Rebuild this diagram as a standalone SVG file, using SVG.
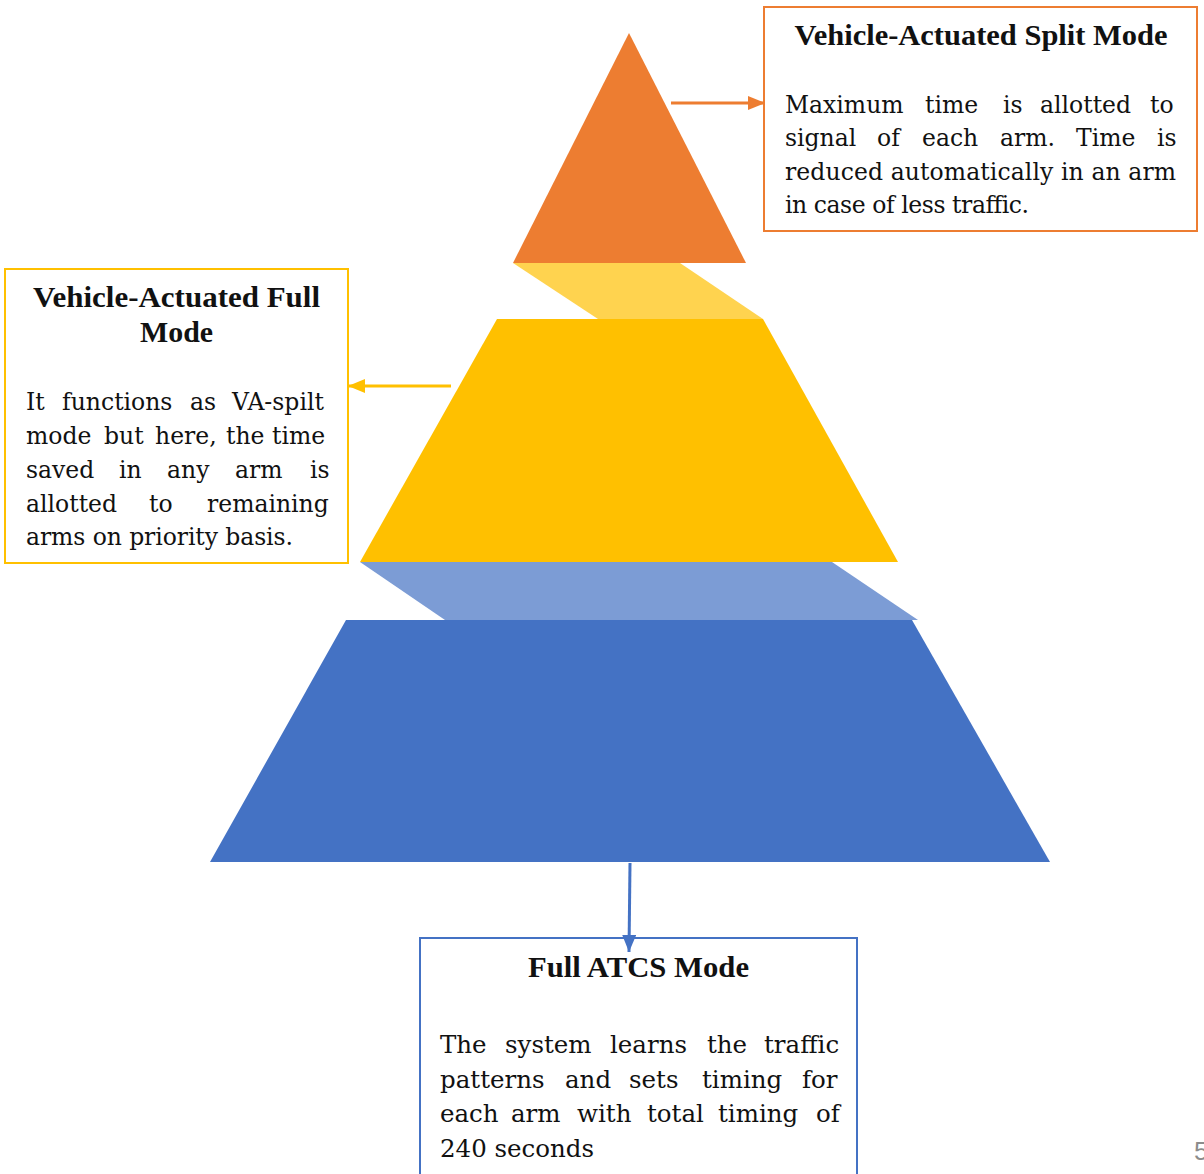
<svg xmlns="http://www.w3.org/2000/svg" width="1204" height="1174" viewBox="0 0 1204 1174">
<style>
.box{fill:#fff;stroke-width:2}
.title{font-family:"Liberation Serif","Times New Roman",serif;font-weight:bold;font-size:29px;fill:#111;text-anchor:middle}
.body{font-family:"DejaVu Serif","Liberation Serif",serif;fill:#111}
.b1{font-size:23.5px}
.b2{font-size:23.5px}
.b3{font-size:24.5px}
.conn{fill:none;stroke-width:3}
</style>
<defs>
<marker id="ahO" markerUnits="userSpaceOnUse" markerWidth="17" markerHeight="14" refX="17" refY="7" orient="auto"><path d="M0,0 L17,7 L0,14 z" fill="#ED7D31"/></marker>
<marker id="ahY" markerUnits="userSpaceOnUse" markerWidth="17" markerHeight="14" refX="17" refY="7" orient="auto"><path d="M0,0 L17,7 L0,14 z" fill="#FFC000"/></marker>
<marker id="ahB" markerUnits="userSpaceOnUse" markerWidth="17" markerHeight="14" refX="17" refY="7" orient="auto"><path d="M0,0 L17,7 L0,14 z" fill="#4472C4"/></marker>
</defs>
<rect width="1204" height="1174" fill="#fff"/>

<g id="pyramid">
<polygon id="layer-top" points="629,33 746,263 513,263" fill="#ED7D31"/>
<polygon id="band-yellow" points="513,263 680,263 763,319 598,319" fill="#FFD34F"/>
<polygon id="layer-mid" points="497,319 763,319 898,562 360,562" fill="#FFC000"/>
<polygon id="band-blue" points="360,562 832,562 918,620 445,620" fill="#7C9CD5"/>
<polygon id="layer-bottom" points="346,620 912,620 1050,862 210,862" fill="#4472C4"/>
</g>

<g id="node-split">
<rect class="box" x="764" y="7" width="433" height="224" stroke="#ED7D31"/>
<text class="title" x="981" y="45" textLength="373" lengthAdjust="spacingAndGlyphs">Vehicle-Actuated Split Mode</text>
<text class="body b1" y="113"><tspan x="785">Maximum</tspan><tspan x="925">time</tspan><tspan x="1003">is</tspan><tspan x="1040">allotted</tspan><tspan x="1150">to</tspan></text>
<text class="body b1" y="146"><tspan x="785">signal</tspan><tspan x="877">of</tspan><tspan x="922">each</tspan><tspan x="1000">arm.</tspan><tspan x="1076">Time</tspan><tspan x="1157">is</tspan></text>
<text class="body b1" x="785" y="180" textLength="391" lengthAdjust="spacing">reduced automatically in an arm</text>
<text class="body b1" x="785" y="213" textLength="244" lengthAdjust="spacing">in case of less traffic.</text>
</g>

<g id="node-full">
<rect class="box" x="5" y="269" width="343" height="294" stroke="#FFC000"/>
<text class="title" x="176.5" y="307" textLength="287" lengthAdjust="spacingAndGlyphs">Vehicle-Actuated Full</text>
<text class="title" x="176.5" y="342" textLength="73" lengthAdjust="spacingAndGlyphs">Mode</text>
<text class="body b2" y="410"><tspan x="26">It</tspan><tspan x="62">functions</tspan><tspan x="190">as</tspan><tspan x="232">VA-spilt</tspan></text>
<text class="body b2" y="444"><tspan x="26">mode</tspan><tspan x="104">but</tspan><tspan x="155">here,</tspan><tspan x="226">the</tspan><tspan x="272">time</tspan></text>
<text class="body b2" y="478"><tspan x="26">saved</tspan><tspan x="119">in</tspan><tspan x="167">any</tspan><tspan x="235">arm</tspan><tspan x="310">is</tspan></text>
<text class="body b2" y="512"><tspan x="26">allotted</tspan><tspan x="149">to</tspan><tspan x="207">remaining</tspan></text>
<text class="body b2" x="26" y="545" textLength="267" lengthAdjust="spacing">arms on priority basis.</text>
</g>

<g id="node-atcs">
<rect class="box" x="420" y="938" width="437" height="250" stroke="#4472C4"/>
<text class="title" x="638.5" y="977" textLength="221" lengthAdjust="spacingAndGlyphs">Full ATCS Mode</text>
<text class="body b3" y="1053"><tspan x="440">The</tspan><tspan x="505">system</tspan><tspan x="610">learns</tspan><tspan x="707">the</tspan><tspan x="764">traffic</tspan></text>
<text class="body b3" y="1088"><tspan x="440">patterns</tspan><tspan x="565">and</tspan><tspan x="629">sets</tspan><tspan x="702">timing</tspan><tspan x="802">for</tspan></text>
<text class="body b3" y="1122"><tspan x="440">each</tspan><tspan x="511">arm</tspan><tspan x="577">with</tspan><tspan x="647">total</tspan><tspan x="718">timing</tspan><tspan x="816">of</tspan></text>
<text class="body b3" x="440" y="1157" textLength="154" lengthAdjust="spacing">240 seconds</text>
</g>

<g id="connectors">
<line class="conn" x1="671" y1="103" x2="765" y2="103" stroke="#ED7D31" marker-end="url(#ahO)"/>
<line class="conn" x1="451" y1="386" x2="348" y2="386" stroke="#FFC000" marker-end="url(#ahY)"/>
<line class="conn" x1="630" y1="863" x2="629" y2="952" stroke="#4472C4" marker-end="url(#ahB)"/>
</g>

<text id="page-number" x="1194" y="1160" font-family="Liberation Sans, Arial, sans-serif" font-size="26" fill="#8C8C8C">5</text>
</svg>
